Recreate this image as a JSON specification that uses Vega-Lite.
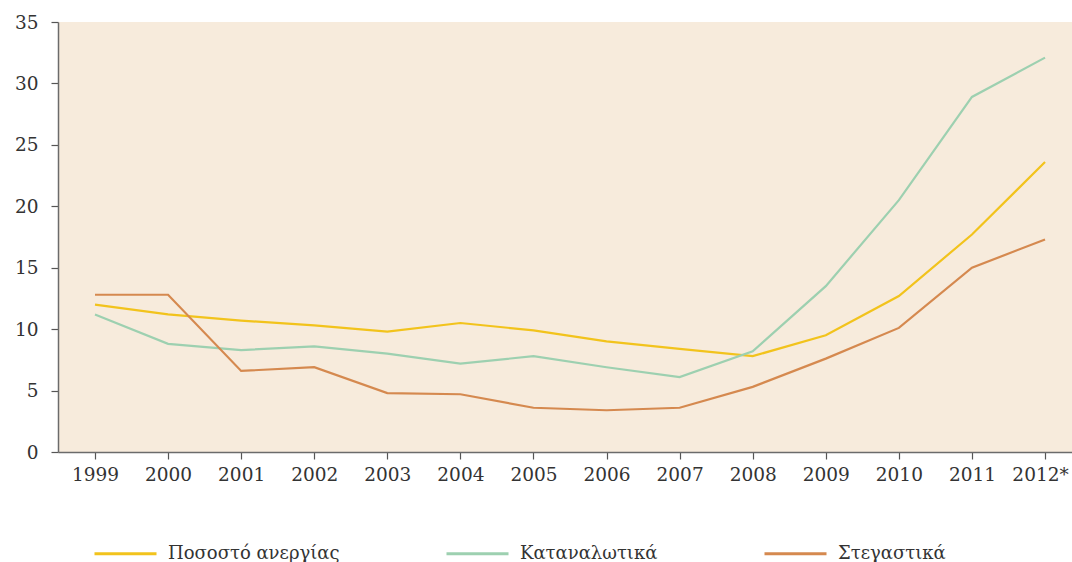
{
  "$schema": "https://vega.github.io/schema/vega-lite/v6.json",
  "width": 1014,
  "height": 430,
  "autosize": {"type": "none"},
  "padding": {"left": 58, "top": 22, "right": 0, "bottom": 110},
  "background": "white",
  "config": {
    "view": {"fill": "#f7ebdc", "stroke": null},
    "font": "DejaVu Serif"
  },
  "data": {
    "values": [
      {"year": 1999, "series": "Ποσοστό ανεργίας", "value": 12.0},
      {"year": 2000, "series": "Ποσοστό ανεργίας", "value": 11.2},
      {"year": 2001, "series": "Ποσοστό ανεργίας", "value": 10.7},
      {"year": 2002, "series": "Ποσοστό ανεργίας", "value": 10.3},
      {"year": 2003, "series": "Ποσοστό ανεργίας", "value": 9.8},
      {"year": 2004, "series": "Ποσοστό ανεργίας", "value": 10.5},
      {"year": 2005, "series": "Ποσοστό ανεργίας", "value": 9.9},
      {"year": 2006, "series": "Ποσοστό ανεργίας", "value": 9.0},
      {"year": 2007, "series": "Ποσοστό ανεργίας", "value": 8.4},
      {"year": 2008, "series": "Ποσοστό ανεργίας", "value": 7.8},
      {"year": 2009, "series": "Ποσοστό ανεργίας", "value": 9.5},
      {"year": 2010, "series": "Ποσοστό ανεργίας", "value": 12.7},
      {"year": 2011, "series": "Ποσοστό ανεργίας", "value": 17.7},
      {"year": 2012, "series": "Ποσοστό ανεργίας", "value": 23.6},
      {"year": 1999, "series": "Καταναλωτικά", "value": 11.2},
      {"year": 2000, "series": "Καταναλωτικά", "value": 8.8},
      {"year": 2001, "series": "Καταναλωτικά", "value": 8.3},
      {"year": 2002, "series": "Καταναλωτικά", "value": 8.6},
      {"year": 2003, "series": "Καταναλωτικά", "value": 8.0},
      {"year": 2004, "series": "Καταναλωτικά", "value": 7.2},
      {"year": 2005, "series": "Καταναλωτικά", "value": 7.8},
      {"year": 2006, "series": "Καταναλωτικά", "value": 6.9},
      {"year": 2007, "series": "Καταναλωτικά", "value": 6.1},
      {"year": 2008, "series": "Καταναλωτικά", "value": 8.2},
      {"year": 2009, "series": "Καταναλωτικά", "value": 13.5},
      {"year": 2010, "series": "Καταναλωτικά", "value": 20.5},
      {"year": 2011, "series": "Καταναλωτικά", "value": 28.9},
      {"year": 2012, "series": "Καταναλωτικά", "value": 32.1},
      {"year": 1999, "series": "Στεγαστικά", "value": 12.8},
      {"year": 2000, "series": "Στεγαστικά", "value": 12.8},
      {"year": 2001, "series": "Στεγαστικά", "value": 6.6},
      {"year": 2002, "series": "Στεγαστικά", "value": 6.9},
      {"year": 2003, "series": "Στεγαστικά", "value": 4.8},
      {"year": 2004, "series": "Στεγαστικά", "value": 4.7},
      {"year": 2005, "series": "Στεγαστικά", "value": 3.6},
      {"year": 2006, "series": "Στεγαστικά", "value": 3.4},
      {"year": 2007, "series": "Στεγαστικά", "value": 3.6},
      {"year": 2008, "series": "Στεγαστικά", "value": 5.3},
      {"year": 2009, "series": "Στεγαστικά", "value": 7.6},
      {"year": 2010, "series": "Στεγαστικά", "value": 10.1},
      {"year": 2011, "series": "Στεγαστικά", "value": 15.0},
      {"year": 2012, "series": "Στεγαστικά", "value": 17.3}
    ]
  },
  "mark": {"type": "line", "strokeWidth": 2.2, "clip": false},
  "encoding": {
    "x": {
      "field": "year",
      "type": "quantitative",
      "scale": {"domain": [1998.494, 2012.369], "nice": false, "zero": false},
      "axis": {
        "title": null,
        "values": [1999, 2000, 2001, 2002, 2003, 2004, 2005, 2006, 2007, 2008, 2009, 2010, 2011, 2012],
        "labelExpr": "datum.value === 2012 ? '2012*' : '' + datum.value",
        "labelFlush": false,
        "labelOverlap": false,
        "labelOffset": {"condition": {"test": "datum.value === 2012", "value": -5}, "value": 0},
        "grid": false,
        "domainColor": "#6b6b6b",
        "domainWidth": 1.5,
        "tickColor": "#555555",
        "tickSize": 7,
        "tickWidth": 1.2,
        "labelFont": "DejaVu Serif",
        "labelFontSize": 18.5,
        "labelColor": "#333333",
        "labelPadding": 6
      }
    },
    "y": {
      "field": "value",
      "type": "quantitative",
      "scale": {"domain": [0, 35], "nice": false},
      "axis": {
        "title": null,
        "values": [0, 5, 10, 15, 20, 25, 30, 35],
        "grid": false,
        "domainColor": "#6b6b6b",
        "domainWidth": 1.5,
        "tickColor": "#555555",
        "tickSize": 7,
        "tickWidth": 1.2,
        "labelFont": "DejaVu Serif",
        "labelFontSize": 18.5,
        "labelColor": "#333333",
        "labelPadding": 13
      }
    },
    "color": {
      "field": "series",
      "type": "nominal",
      "scale": {
        "domain": ["Ποσοστό ανεργίας", "Καταναλωτικά", "Στεγαστικά"],
        "range": ["#f2c31c", "#9dd0b0", "#d5894f"]
      },
      "legend": {
        "title": null,
        "orient": "none",
        "direction": "horizontal",
        "legendX": 35,
        "legendY": 499,
        "symbolType": "stroke",
        "symbolSize": 3844,
        "symbolStrokeWidth": 3,
        "labelOffset": 10,
        "labelLimit": 400,
        "columnPadding": 100,
        "labelFont": "DejaVu Serif",
        "labelFontSize": 18,
        "labelColor": "#333333"
      }
    }
  }
}
